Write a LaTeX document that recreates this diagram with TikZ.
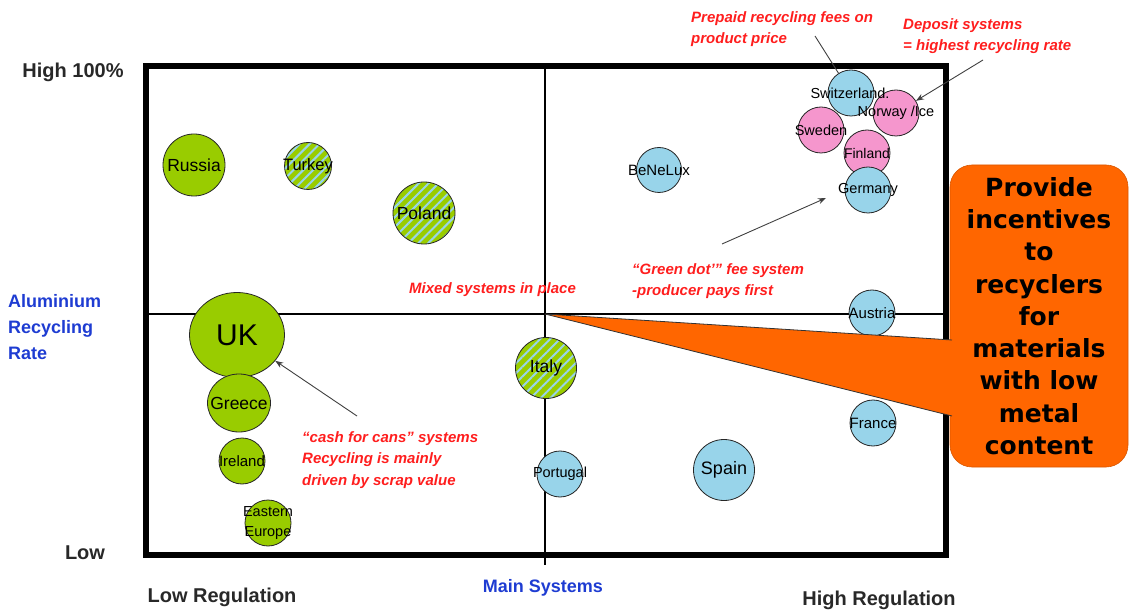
\documentclass[tikz,border=0pt]{standalone}
\usepackage{fontspec}
\setmainfont{Liberation Sans}
\newfontfamily\dvbold{DejaVu Sans}
\usetikzlibrary{arrows.meta,patterns.meta,shapes.geometric}
\definecolor{cgreen}{RGB}{153,204,0}
\definecolor{cblue}{RGB}{152,212,234}
\definecolor{cpink}{RGB}{245,150,205}
\definecolor{corange}{RGB}{255,102,0}
\definecolor{cred}{RGB}{255,30,30}
\definecolor{caxis}{RGB}{30,60,210}
\definecolor{ctext}{RGB}{40,40,40}
\tikzset{
  bub/.style={circle, draw=black!85, line width=0.8pt, inner sep=0pt},
  gbub/.style={bub, fill=cgreen},
  bbub/.style={bub, fill=cblue},
  pbub/.style={bub, fill=cpink},
  hbub/.style={bub, preaction={fill=cgreen}, pattern={Lines[angle=45,distance=7pt,line width=2pt]}, pattern color=cblue},
  lbl/.style={font=\fontsize{15}{16}\selectfont, inner sep=0pt, align=center},
  biglbl/.style={font=\fontsize{17.5}{18}\selectfont, inner sep=0pt},
  note/.style={text=cred, font=\fontsize{15}{21.5}\selectfont\bfseries\itshape, align=left, inner sep=0pt, anchor=west},
  axlbl/.style={text=ctext, font=\fontsize{20}{22}\selectfont\bfseries, inner sep=0pt},
  bluelbl/.style={text=caxis, font=\fontsize{18}{26}\selectfont\bfseries, inner sep=0pt, align=left},
  arr/.style={draw=black!75, line width=0.9pt, -{Stealth[length=8pt,width=6pt]}},
  plain/.style={draw=black!75, line width=0.9pt},
}
\begin{document}
\begin{tikzpicture}[x=1pt,y=-1pt]
\useasboundingbox (0,0) rectangle (1130,612);
% frame and mid lines
\draw[line width=6pt] (145.5,66) rectangle (946,555);
\coordinate (cross) at (545,314);
\coordinate (mleft) at (148,314);
\coordinate (mright) at (943,314);
\coordinate (mtop) at (545,69);
\coordinate (mbot) at (545,565);
\draw[line width=1.3pt] (mleft) -- (mright);
\draw[line width=1.3pt] (mtop) -- (mbot);

% bubbles
\node[gbub, minimum size=62pt] (russia) at (194,165) {};
\node[hbub, minimum size=47pt] (turkey) at (308,166) {};
\node[hbub, minimum size=62pt] (poland) at (424,213) {};
\node[gbub, ellipse, minimum width=95pt, minimum height=85pt] (uk) at (237,335) {};
\node[gbub, ellipse, minimum width=63pt, minimum height=58pt] (greece) at (239,403) {};
\node[gbub, minimum size=46pt] (ireland) at (242,461) {};
\node[gbub, minimum size=46pt] (eeurope) at (268,523) {};
\node[bbub, minimum size=45pt] (benelux) at (659,170) {};
\node[hbub, minimum size=61pt] (italy) at (546,368) {};
\node[bbub, minimum size=46pt] (portugal) at (560,474) {};
\node[bbub, minimum size=61pt] (spain) at (724,470) {};
\node[bbub, minimum size=46pt] (austria) at (872,313) {};
\node[bbub, minimum size=46pt] (france) at (873,423) {};
\node[pbub, minimum size=46pt] (norway) at (896,113) {};
\node[bbub, minimum size=46pt] (swiss) at (851,93) {};
\node[pbub, minimum size=46pt] (sweden) at (821,130) {};
\node[pbub, minimum size=46pt] (finland) at (867,153) {};
\node[bbub, minimum size=46pt] (germany) at (868,190) {};

% labels
\node[biglbl] at (russia) {Russia};
\node[lbl, font=\fontsize{16.5}{17}\selectfont] at (turkey) {Turkey};
\node[biglbl] at (poland) {Poland};
\node[inner sep=0pt, font=\fontsize{30}{32}\selectfont] at (uk) {UK};
\node[biglbl] at (greece) {Greece};
\node[lbl] at (ireland) {Ireland};
\node[lbl, font=\fontsize{14.5}{20}\selectfont] at (eeurope) {Eastern\\Europe};
\node[lbl] at (benelux) {BeNeLux};
\node[biglbl] at (italy) {Italy};
\node[lbl, font=\fontsize{14.5}{16}\selectfont] at (portugal) {Portugal};
\node[biglbl, font=\fontsize{18}{18}\selectfont] at (spain) {Spain};
\node[lbl] at (austria) {Austria};
\node[lbl] at (france) {France};
\node[lbl, font=\fontsize{14.5}{16}\selectfont] at (850,93) {Switzerland.};
\node[lbl, font=\fontsize{14.5}{16}\selectfont] at (896,113) {Norway /Ice};
\node[lbl, font=\fontsize{14.5}{16}\selectfont] at (sweden) {Sweden};
\node[lbl, font=\fontsize{14}{16}\selectfont] at (finland) {Finland};
\node[lbl, font=\fontsize{14.5}{16}\selectfont] at (germany) {Germany};

% callout
\node[fill=corange, draw=corange!85!black, line width=0.6pt, rounded corners=22pt,
      minimum width=178pt, minimum height=302pt, inner sep=0pt, align=center,
      font=\dvbold\bfseries\fontsize{25}{32.3}\selectfont] (callout) at (1039,316)
  {Provide\\incentives\\to\\recyclers\\for\\materials\\with low\\metal\\content};
\coordinate (ctop) at (952,340);
\coordinate (cbot) at (952,416);
\coordinate (ctopin) at (966,340);
\coordinate (cbotin) at (966,416);
\fill[corange] (cross) -- (ctop) -- (ctopin) -- (cbotin) -- (cbot) -- cycle;
\draw[black!80, line width=0.8pt] (ctop) -- (cross) -- (cbot);

% axis texts
\node[axlbl] (high) at (73,72) {High 100\%};
\node[axlbl] (low) at (85,553) {Low};
\node[bluelbl, anchor=west] (alu) at (8,327) {Aluminium\\Recycling\\Rate};
\node[axlbl] (lowreg) at (222,597) {Low Regulation};
\node[bluelbl] (mainsys) at (543,588) {Main Systems};
\node[axlbl] (highreg) at (879,600) {High Regulation};

% annotations
\node[note] (prepaid) at (691,29) {Prepaid recycling fees on\\product price};
\node[note] (deposit) at (903,36) {Deposit systems\\= highest recycling rate};
\node[note] (mixed) at (409,290) {Mixed systems in place};
\node[note] (greendot) at (632,281) {“Green dot’” fee system\\-producer pays first};
\node[note] (cash) at (302,460) {“cash for cans” systems\\Recycling is mainly\\driven by scrap value};

% arrows
\coordinate (pptail) at (815,36);
\draw[plain] (pptail) -- (swiss);
\coordinate (deptail) at (983,60);
\draw[arr] (deptail) -- (norway);
\coordinate (gdtail) at (722,244);
\coordinate (gdhead) at (826,198);
\draw[arr] (gdtail) -- (gdhead);
\coordinate (cashtail) at (357,416);
\draw[arr] (cashtail) -- (uk);
\end{tikzpicture}
\end{document}
